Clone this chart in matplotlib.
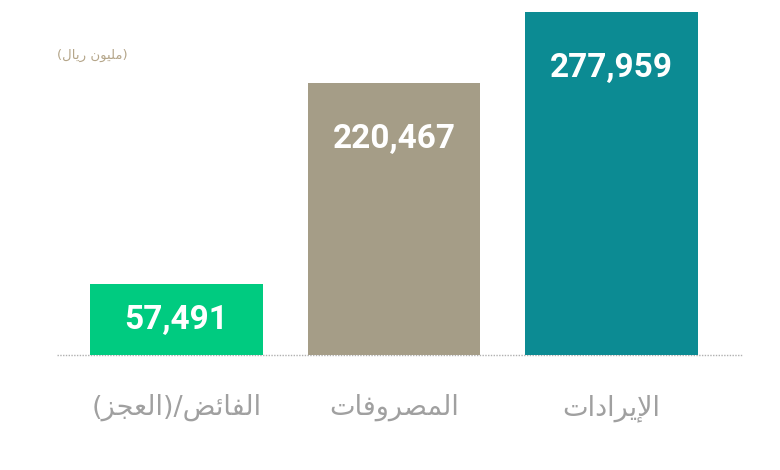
import matplotlib
matplotlib.use("Agg")
import matplotlib.pyplot as plt

# bars in display order, left to right
categories = ["الفائض/(العجز)", "المصروفات", "الإيرادات"]
values = [57491, 220467, 277959]
colors = ["#00cb80", "#a59d87", "#0c8b93"]
unit_label = "(مليون ريال)"

# simple arabic shaping -> presentation forms (isolated, final, initial, medial)
FORMS = {
    'ا': ('\uFE8D', '\uFE8E', None, None),
    'إ': ('\uFE87', '\uFE88', None, None),
    'د': ('\uFEA9', '\uFEAA', None, None),
    'ر': ('\uFEAD', '\uFEAE', None, None),
    'ز': ('\uFEAF', '\uFEB0', None, None),
    'و': ('\uFEED', '\uFEEE', None, None),
    'ب': ('\uFE8F', '\uFE90', '\uFE91', '\uFE92'),
    'ت': ('\uFE95', '\uFE96', '\uFE97', '\uFE98'),
    'ج': ('\uFE9D', '\uFE9E', '\uFE9F', '\uFEA0'),
    'ص': ('\uFEB9', '\uFEBA', '\uFEBB', '\uFEBC'),
    'ض': ('\uFEBD', '\uFEBE', '\uFEBF', '\uFEC0'),
    'ع': ('\uFEC9', '\uFECA', '\uFECB', '\uFECC'),
    'ف': ('\uFED1', '\uFED2', '\uFED3', '\uFED4'),
    'ل': ('\uFEDD', '\uFEDE', '\uFEDF', '\uFEE0'),
    'م': ('\uFEE1', '\uFEE2', '\uFEE3', '\uFEE4'),
    'ن': ('\uFEE5', '\uFEE6', '\uFEE7', '\uFEE8'),
    'ي': ('\uFEF1', '\uFEF2', '\uFEF3', '\uFEF4'),
    'ئ': ('\uFE89', '\uFE8A', '\uFE8B', '\uFE8C'),
    'لا': ('\uFEFB', '\uFEFC', None, None),
    'لإ': ('\uFEF9', '\uFEFA', None, None),
}
MIRROR = {'(': ')', ')': '('}


def shape(text):
    toks = []
    i = 0
    while i < len(text):
        if text[i:i + 2] in FORMS:
            toks.append(text[i:i + 2])
            i += 2
        else:
            toks.append(text[i])
            i += 1
    out = []
    for k, t in enumerate(toks):
        if t not in FORMS:
            out.append(MIRROR.get(t, t))
            continue
        prev = toks[k - 1] if k > 0 else None
        nxt = toks[k + 1] if k + 1 < len(toks) else None
        p = prev in FORMS and FORMS[prev][2] is not None
        n = FORMS[t][2] is not None and nxt in FORMS
        f = FORMS[t]
        if p and n:
            out.append(f[3])
        elif p:
            out.append(f[1])
        elif n:
            out.append(f[2])
        else:
            out.append(f[0])
    return "".join(out[::-1])


fig = plt.figure(figsize=(7.8, 4.7), dpi=100)
ax = fig.add_axes([0, 115 / 470, 1, 355 / 470])
ax.set_axis_off()

x = list(range(len(categories)))
ax.bar(x, values, width=0.795, color=colors, zorder=2)
ax.set_xlim(-0.8115, 2.775)
ax.set_ylim(0, 287700)

ax.plot([-0.55, 2.60], [0, 0], ls=(0, (1, 1)), color="#b0b0b0", lw=1, zorder=1, clip_on=False)

for i, v in enumerate(values):
    y = v - min(45400, v / 2)
    ax.text(i, y, f"{v:,}", ha="center", va="center", color="white",
            fontsize=24, fontweight="bold", family="Roboto")
    ax.annotate(shape(categories[i]), xy=(i, 0), xytext=(0, -38), textcoords="offset points",
                ha="center", va="center", color="#a0a0a0", fontsize=19.5, family="DejaVu Sans",
                annotation_clip=False)

fig.text(92 / 780, 1 - 55 / 470, shape(unit_label), ha="center", va="center",
         color="#b5a68a", fontsize=9.5, family="DejaVu Sans")

fig.savefig("out.png", dpi=100, facecolor="white")
